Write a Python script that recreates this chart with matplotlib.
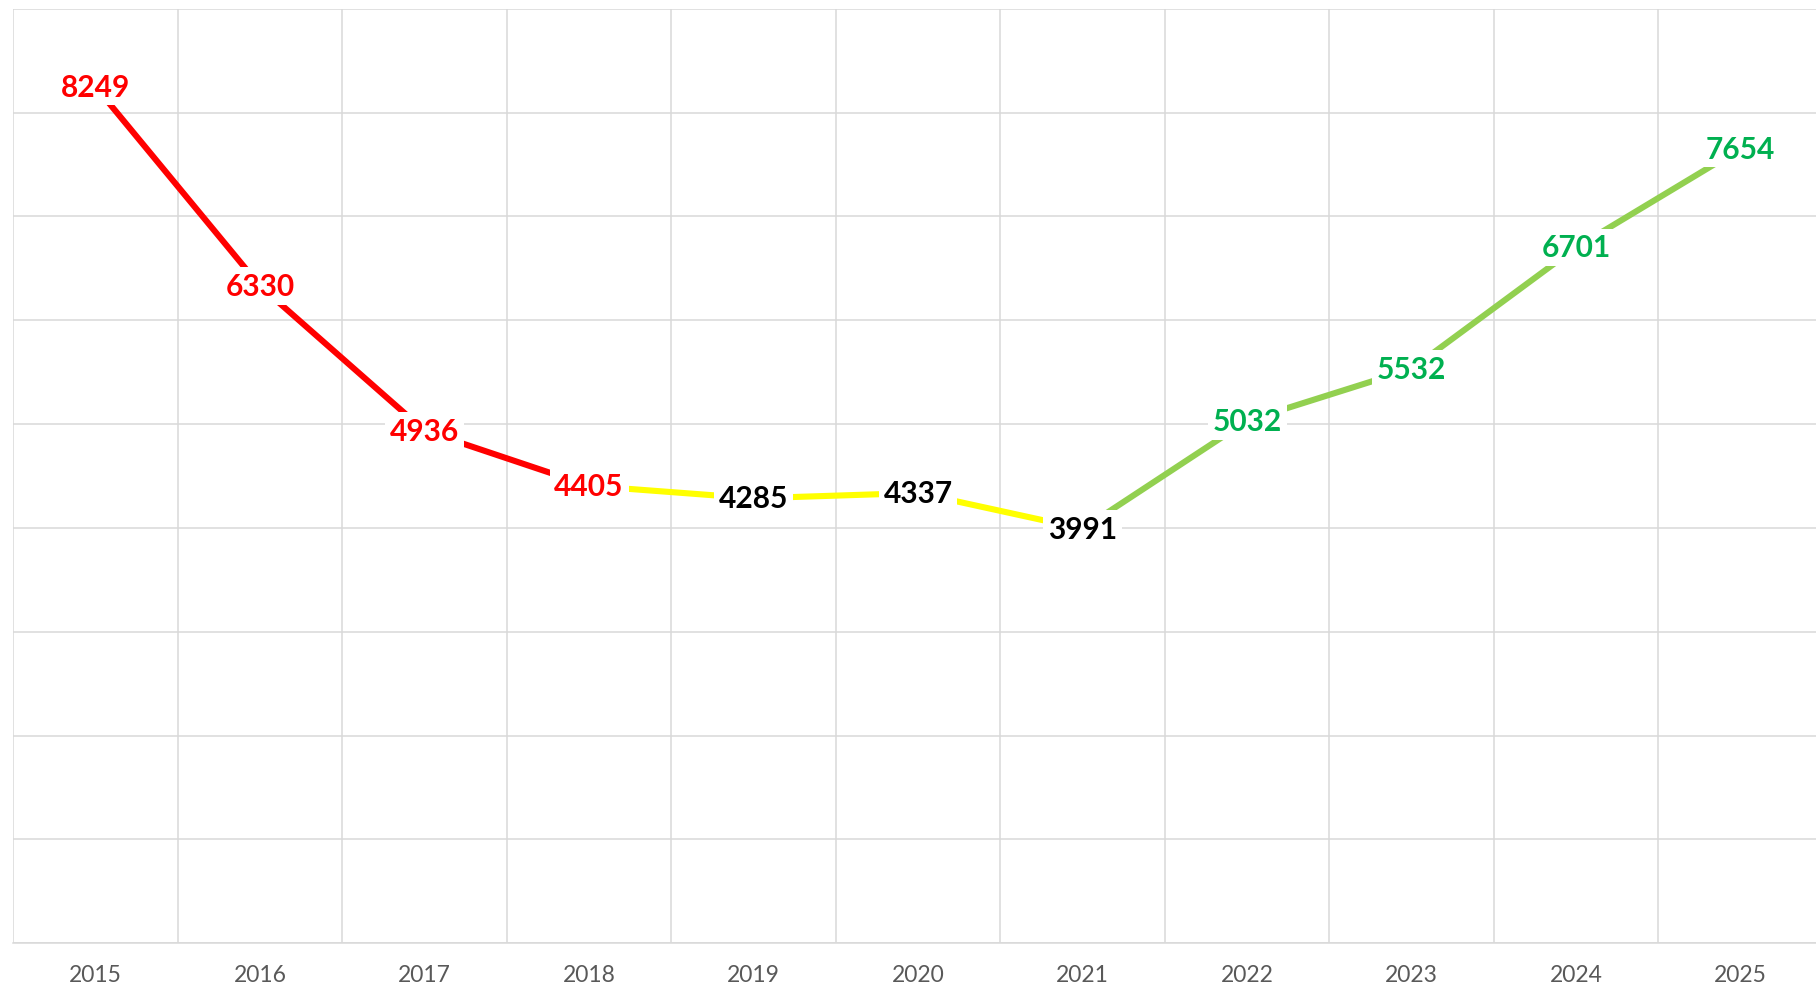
import matplotlib
matplotlib.use("Agg")
import matplotlib.pyplot as plt

years = ["2015", "2016", "2017", "2018", "2019", "2020", "2021", "2022", "2023", "2024", "2025"]
values = [8249, 6330, 4936, 4405, 4285, 4337, 3991, 5032, 5532, 6701, 7654]
# segments: (start index, end index, line colour)
segments = [(0, 3, "#FF0000"), (3, 6, "#FFFF00"), (6, 10, "#92D050")]
label_colors = ["#FF0000"] * 4 + ["#000000"] * 3 + ["#00B050"] * 4

fig = plt.figure(figsize=(18.16, 10.04), dpi=100)
ax = fig.add_axes([0.0073, 0.0595, 0.9965, 0.9308])

x = list(range(len(years)))
for s, e, c in segments:
    ax.plot(x[s:e + 1], values[s:e + 1], color=c, linewidth=4.4,
            solid_capstyle="butt", zorder=3)

for xi, v, c in zip(x, values, label_colors):
    ax.text(xi, v, str(v), ha="center", va="center", color=c,
            fontsize=21.5, fontweight="bold", family=["Lato", "DejaVu Sans"],
            bbox=dict(boxstyle="square,pad=0.16", facecolor="white", edgecolor="none"),
            zorder=4)

ax.set_xlim(-0.5, len(years) - 0.5)
ax.set_ylim(0, 9000)
ax.set_yticks(range(0, 9001, 1000))
ax.set_yticklabels([])
ax.set_xticks(x)
ax.set_xticklabels(years, family=["Lato", "DejaVu Sans"], fontsize=16.5, color="#595959")
ax.set_xticks([i - 0.5 for i in range(len(years) + 1)], minor=True)
ax.tick_params(axis="both", which="both", length=0)
ax.tick_params(axis="x", which="major", pad=15)
ax.grid(axis="y", which="major", color="#D9D9D9", linewidth=1.1)
ax.grid(axis="x", which="minor", color="#D9D9D9", linewidth=1.1)
ax.grid(axis="x", which="major", visible=False)
for sp in ax.spines.values():
    sp.set_visible(False)
ax.spines["bottom"].set_visible(True)
ax.spines["bottom"].set_color("#D9D9D9")
ax.spines["bottom"].set_linewidth(1.1)
ax.set_axisbelow(True)

fig.savefig("out.png", dpi=100, facecolor="white")
